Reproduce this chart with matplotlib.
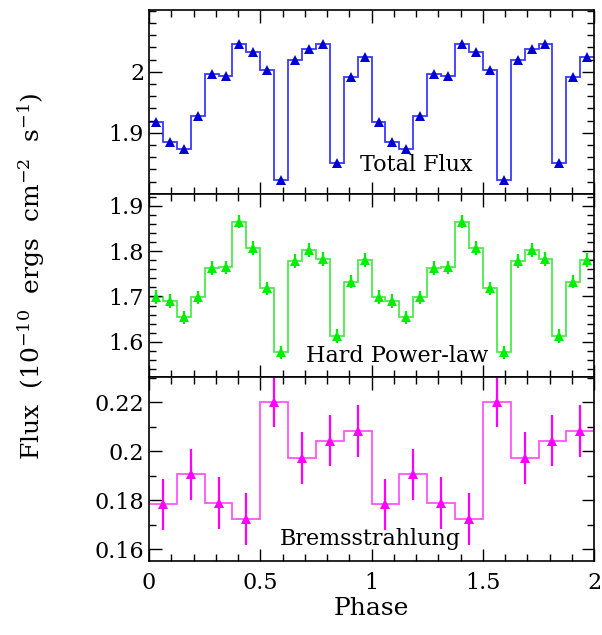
import numpy as np
import matplotlib
matplotlib.use("Agg")
import matplotlib.pyplot as plt
from matplotlib.ticker import MultipleLocator, FixedLocator

# one cycle of each folded light curve (repeated twice over phase 0-2)
total_flux = [1.918, 1.885, 1.874, 1.928, 1.997, 1.993, 2.045, 2.032,
              2.003, 1.822, 2.019, 2.038, 2.045, 1.851, 1.992, 2.024]
total_err = [0.003] * 16

hard_pl = [1.699, 1.690, 1.654, 1.698, 1.763, 1.764, 1.865, 1.807,
           1.718, 1.577, 1.778, 1.802, 1.782, 1.613, 1.733, 1.780]
hard_err = [0.015] * 16

brems = [0.1783, 0.1906, 0.1789, 0.1724, 0.2203, 0.1972, 0.2044, 0.2083]
brems_err = [0.0105] * 8

labels = ["Total Flux", "Hard Power-law", "Bremsstrahlung"]
label_pos = [(1.2, 1.847), (1.115, 1.569), (0.993, 0.164)]
yticks = [[1.9, 2.0], [1.6, 1.7, 1.8, 1.9], [0.16, 0.18, 0.20, 0.22]]

plt.rcParams['font.family'] = ['DejaVu Serif']
plt.rcParams['mathtext.fontset'] = 'dejavuserif'

fig, axes = plt.subplots(3, 1, figsize=(6.02, 6.35), dpi=100, sharex=True)
fig.subplots_adjust(left=0.2475, right=0.987, top=0.984, bottom=0.1165, hspace=0)

panels = [
    (total_flux, total_err, '#3a3aff', '#0000d0', (1.8, 2.101), 0.02),
    (hard_pl, hard_err, '#4ee84e', '#00ee00', (1.522, 1.926), 0.02),
    (brems, brems_err, '#ff55ff', '#ff00ff', (0.1552, 0.2302), 0.01),
]

for ax, (vals, errs, lc, mc, ylim, minor), text, pos, yt in zip(axes, panels, labels, label_pos, yticks):
    y = np.array(vals + vals)
    e = np.array(errs + errs)
    edges = np.linspace(0, 2, len(y) + 1)
    centers = 0.5 * (edges[:-1] + edges[1:])
    ax.stairs(y, edges, baseline=None, color=lc, lw=1.3)
    ax.errorbar(centers, y, yerr=e, fmt='^', color=mc, ms=7.5, ecolor=mc,
                elinewidth=1.6, capsize=0, mew=0)
    ax.set_xlim(0, 2)
    ax.set_ylim(*ylim)
    ax.yaxis.set_major_locator(FixedLocator(yt))
    ax.yaxis.set_minor_locator(MultipleLocator(minor))
    ax.yaxis.set_major_formatter(plt.FuncFormatter(lambda v, p: f"{v:g}"))
    ax.xaxis.set_major_locator(MultipleLocator(0.5))
    ax.xaxis.set_minor_locator(MultipleLocator(0.1))
    ax.tick_params(which='both', direction='in', top=True, right=True, labelsize=16)
    ax.tick_params(axis='x', pad=8)
    ax.tick_params(which='major', length=9, width=1)
    ax.tick_params(which='minor', length=5, width=1)
    ax.text(pos[0], pos[1], text, ha='center', va='center', fontsize=16)
    for s in ax.spines.values():
        s.set_linewidth(1.2)

axes[2].xaxis.set_major_formatter(plt.FuncFormatter(lambda v, p: f"{v:g}"))

axes[2].set_xlabel("Phase", fontsize=18, labelpad=2)
fig.text(0.052, 0.565, r"Flux  (10$^{-10}$  ergs  cm$^{-2}$  s$^{-1}$)", rotation=90,
         ha='center', va='center', fontsize=18)

fig.savefig("out.png", dpi=100)
